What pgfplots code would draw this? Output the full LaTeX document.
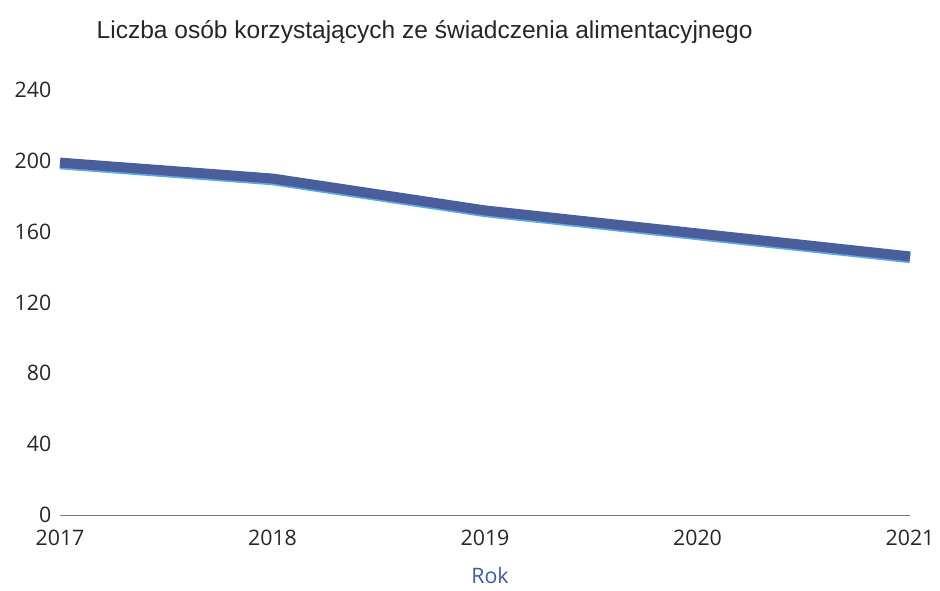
\documentclass[border=0pt]{standalone}
\usepackage{fontspec}
\setmainfont{Open Sans}
\newfontfamily\titlefont{Liberation Sans}
\usepackage{pgfplots}
\pgfplotsset{compat=1.18}
\definecolor{linedark}{RGB}{74,94,156}
\definecolor{lineedge}{RGB}{90,170,230}
\definecolor{rokblue}{RGB}{60,90,165}
\definecolor{axisgrey}{RGB}{120,120,120}

\begin{document}
\begin{tikzpicture}[x=0.75pt,y=0.75pt]
% page frame, 940 x 590 px, axis origin at (60,515)
\path[use as bounding box] (-60,-75) rectangle (880,515);
\begin{axis}[
  at={(0,0)},anchor=south west,
  scale only axis,
  width=637.5pt,height=318.75pt,
  xmin=2017,xmax=2021,ymin=0,ymax=240,
  xtick={2017,2018,2019,2020,2021},
  ytick={0,40,80,120,160,200,240},
  xticklabel style={/pgf/number format/1000 sep={}},
  /pgf/number format/assume math mode=true,
  ticklabel style={font=\fontsize{16}{18}\selectfont,text=black!85},
  tick style={draw=none},
  axis x line*=bottom,
  axis y line*=left,
  x axis line style={draw=axisgrey,line width=0.6pt,-},
  y axis line style={draw=none},
  xticklabel shift=8pt,
  yticklabel shift=3pt,
  clip=false,
]
\addplot[draw=lineedge,line width=7.5pt,yshift=-1.3pt] coordinates
  {(2017,199) (2018,190) (2019,172) (2020,159) (2021,146)};
\addplot[draw=linedark,line width=7.5pt] coordinates
  {(2017,199) (2018,190) (2019,172) (2020,159) (2021,146)};
\end{axis}
\node[anchor=west,font=\titlefont\fontsize{18.4}{21}\selectfont,text=black!85]
  at (32,483) {Liczba osób korzystających ze świadczenia alimentacyjnego};
\node[inner sep=1pt,font=\fontsize{16}{18}\selectfont,text=rokblue] at (430,-60) {Rok};
\end{tikzpicture}
\end{document}
